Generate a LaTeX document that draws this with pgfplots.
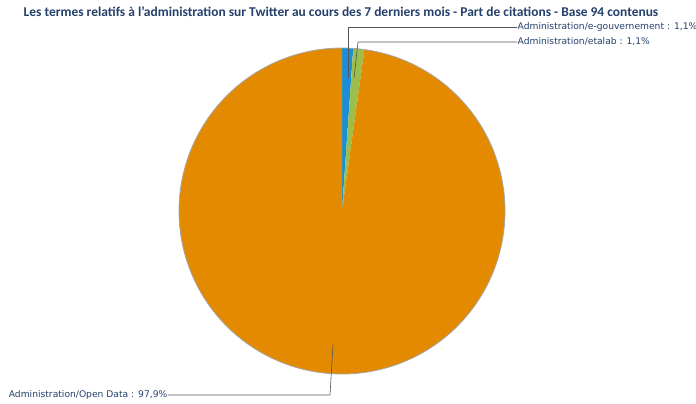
\documentclass[border=0pt]{standalone}
\usepackage{pgfplots}
\pgfplotsset{compat=1.18}
\usepackage{fontspec}
\setmainfont{DejaVu Sans}
\newfontfamily\titlefont{Carlito}
\definecolor{cblue}{HTML}{1A8FD8}
\definecolor{cgreen}{HTML}{9DBE4A}
\definecolor{corange}{HTML}{E38A00}
\definecolor{ctext}{HTML}{24406A}
\definecolor{cline}{HTML}{555555}

% slice values (percent of citations)
\def\vA{1.1}  % e-gouvernement
\def\vB{1.1}  % etalab
\def\vC{97.9} % Open Data

\begin{document}
\begin{tikzpicture}
\pgfmathsetmacro\tot{\vA+\vB+\vC}
\pgfmathsetmacro\aA{360*\vA/\tot}
\pgfmathsetmacro\aB{\aA+360*\vB/\tot}
\begin{axis}[
    x=1bp, y=1bp,
    xmin=0, xmax=696, ymin=0, ymax=403,
    y dir=reverse,
    axis lines=none,
    clip=false,
    variable=\t,
    every axis plot/.append style={line join=round},
]
% slices, clockwise from 12 o'clock; centre (342,211), radius 163
\addplot[fill=cblue, draw=none, domain=0:\aA, samples=20]
    ({342+163*sin(\t)}, {211-163*cos(\t)}) -- (axis cs:342,211) -- cycle;
\addplot[fill=cgreen, draw=none, domain=\aA:\aB, samples=20]
    ({342+163*sin(\t)}, {211-163*cos(\t)}) -- (axis cs:342,211) -- cycle;
\addplot[fill=corange, draw=none, domain=\aB:360, samples=300]
    ({342+163*sin(\t)}, {211-163*cos(\t)}) -- (axis cs:342,211) -- cycle;
\addplot[draw=gray!70, line width=0.8bp, domain=0:360, samples=300]
    ({342+163*sin(\t)}, {211-163*cos(\t)});

% leader lines
\addplot[cline, line width=0.6bp] coordinates {(348,78) (348,27) (517,27)};
\addplot[cline, line width=0.6bp] coordinates {(354,78) (358,42) (517,42)};
\addplot[cline, line width=0.6bp] coordinates {(333,345) (330,395) (168,395)};

% labels
\node[anchor=west, text=ctext, font=\fontsize{9.2}{10}\selectfont, inner sep=0.5bp]
    at (axis cs:517,27) {Administration/e-gouvernement : 1,1\%};
\node[anchor=west, text=ctext, font=\fontsize{9.2}{10}\selectfont, inner sep=0.5bp]
    at (axis cs:517,42) {Administration/etalab : 1,1\%};
\node[anchor=east, text=ctext, font=\fontsize{9.2}{10}\selectfont, inner sep=0.5bp]
    at (axis cs:168,395) {Administration/Open Data : 97,9\%};
\node[text=ctext, font=\titlefont\bfseries\fontsize{13.5}{15}\selectfont]
    at (axis cs:341,12) {Les termes relatifs à l’administration sur Twitter au cours des 7 derniers mois - Part de citations - Base 94 contenus};
\end{axis}
\pgfresetboundingbox
\path (current axis.south west) rectangle (current axis.north east);
\end{tikzpicture}
\end{document}
